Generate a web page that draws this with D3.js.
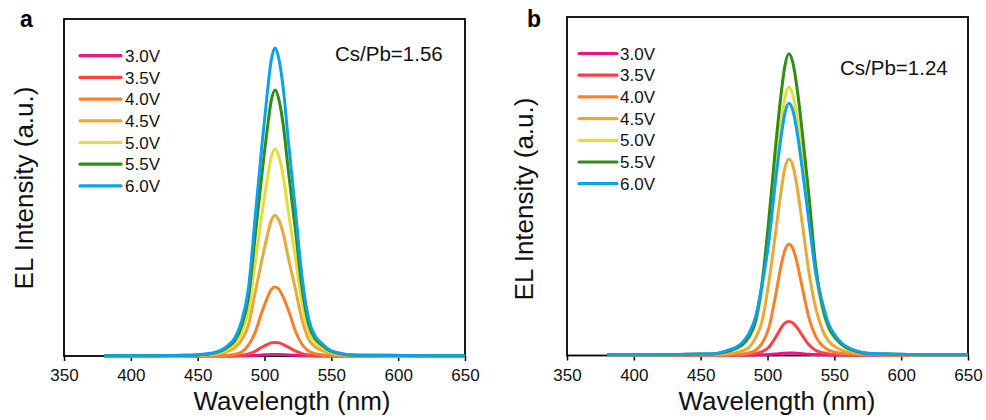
<!DOCTYPE html>
<html>
<head>
<meta charset="utf-8">
<script src="https://cdn.jsdelivr.net/npm/d3@7"></script>
<style>
  body { margin: 0; background: #fff; }
  svg { display: block; font-family: "Liberation Sans", Arial, sans-serif; }
</style>
</head>
<body>
<svg id="chart"></svg>
<script>
/// data ///
const voltages = ["3.0V", "3.5V", "4.0V", "4.5V", "5.0V", "5.5V", "6.0V"];
const xTicks = [350, 400, 450, 500, 550, 600, 650];
const ratioA = "Cs/Pb=1.56";
const ratioB = "Cs/Pb=1.24";

// panel a (nm, a.u.)
const waveA = [380,420,440,450,460,468,473,478,483,488,493,498,502,505,508,511,514,518,523,528,533,538,543,548,558,568,590,620,650];
const elA_3_0 = [0,0,0,0,0,0,0,0,0.5,1,2,3,4,4.4,4.5,4.4,4,3,2,1,0.5,0,0,0,0,0,0,0,0];
const elA_3_5 = [0,0,0,0,0,0,0,1,2,6,14,26,34,39,40,39,34,26,15,7,3,1,1,0,0,0,0,0,0];
const elA_4_0 = [0,0,0,0,0,1,2,5,12,32,70,130,172,197,205,197,175,135,75,35,15,7,4,2,1,0,0,0,0];
const elA_4_5 = [0,0,1,2,4,8,15,25,48,92,188,284,355,401,418,401,364,288,201,109,50,27,17,9,3,1,1,0,0];
const elA_5_0 = [1,1,1,2,6,12,21,37,71,135,276,418,522,589,614,589,534,424,295,160,74,40,25,14,5,2,1,1,1];
const elA_5_5 = [1,1,2,3,7,16,28,47,91,174,355,537,671,757,789,757,686,544,379,205,95,51,32,17,6,2,2,1,1];
const elA_6_0 = [1,1,2,4,8,18,32,55,105,201,411,622,777,877,914,877,795,631,439,238,110,59,37,20,7,3,2,1,1];

// panel b (nm, a.u.)
const waveB = [380,420,440,450,460,466,471,476,481,486,491,496,501,506,510,513,516,519,522,526,531,536,541,546,551,556,566,576,590,620,650];
const elB_3_0 = [0,0,0,0,0,0,0,0,0,0,0.3,0.8,1.5,3,4.5,5.5,6,5.6,5,3.8,2.2,1.2,0.6,0.3,0,0,0,0,0,0,0];
const elB_3_5 = [0,0,0,0,0,0,0,0,1,2,4,10,23,52,79,94,99,95,82,58,30,14,7,3,2,1,0,0,0,0,0];
const elB_4_0 = [0,0,0,0,0,0,1,2,3,6,14,35,80,175,262,310,328,315,275,200,110,55,28,14,8,5,2,1,0,0,0];
const elB_4_5 = [0,0,1,1,1,2,4,7,12,22,50,100,215,360,480,553,579,560,500,390,245,140,75,40,24,14,6,3,1,0,0];
const elB_5_0 = [1,1,2,2,4,7,12,18,29,51,92,195,357,547,682,761,793,769,706,587,420,240,135,75,47,28,10,4,2,1,1];
const elB_5_5 = [1,1,2,3,4,7,12,19,30,53,100,215,401,615,766,855,891,864,793,659,472,265,145,80,50,30,11,4,3,1,1];
const elB_6_0 = [1,1,2,3,4,9,15,22,36,63,112,209,335,514,641,715,745,723,663,551,395,246,156,89,56,34,13,5,3,1,1];

/// styles ///
const colors = ["#e8168b", "#fc4046", "#f5822a", "#e8a93a", "#e4dd38", "#2f8c14", "#0aa2ee"];
const font = "\"Liberation Sans\", Arial, sans-serif";

/// dimensions ///
const width = 986;
const height = 420;

const panels = [
  { label: "a", ratio: ratioA, wave: waveA, series: [elA_3_0, elA_3_5, elA_4_0, elA_4_5, elA_5_0, elA_5_5, elA_6_0],
    left: 64, top: 19, right: 465, bottom: 356, yBase: 356,
    labelX: 20, labelY: 27, ratioX: 335, ratioY: 61, legX: 80, legY: 55.7, legLen: 41, legGap: 4,
    xTitleX: 292, yTitleX: 33, yTitleY: 188 },
  { label: "b", ratio: ratioB, wave: waveB, series: [elB_3_0, elB_3_5, elB_4_0, elB_4_5, elB_5_0, elB_5_5, elB_6_0],
    left: 567, top: 17, right: 968, bottom: 355.5, yBase: 355,
    labelX: 527, labelY: 26.5, ratioX: 840, ratioY: 75, legX: 579, legY: 53.5, legLen: 38, legGap: 3,
    xTitleX: 777, yTitleX: 533, yTitleY: 199 }
];

const svg = d3.select("#chart")
  .attr("width", width)
  .attr("height", height);

panels.forEach(p => {
  const g = svg.append("g");

  // scales
  const x = d3.scaleLinear().domain([350, 650]).range([p.left, p.right]);
  const y = d3.scaleLinear().domain([0, 1000]).range([p.yBase, p.top]);

  // x axis ticks + labels
  g.append("g")
    .attr("transform", `translate(0,${p.bottom})`)
    .call(d3.axisBottom(x).tickValues(xTicks).tickSize(5).tickPadding(8).tickFormat(d3.format("d")))
    .call(a => a.select(".domain").remove())
    .call(a => a.selectAll(".tick line").attr("stroke", "#000").attr("stroke-width", 1.5))
    .call(a => a.selectAll(".tick text")
      .attr("font-family", font)
      .attr("font-size", 17)
      .attr("fill", "#111"));

  // frame
  g.append("rect")
    .attr("x", p.left)
    .attr("y", p.top)
    .attr("width", p.right - p.left)
    .attr("height", p.bottom - p.top)
    .attr("fill", "none")
    .attr("stroke", "#000")
    .attr("stroke-width", 1.8);

  // spectra
  const line = d3.line()
    .x((d, i) => x(p.wave[i]))
    .y(d => y(d))
    .curve(d3.curveMonotoneX);

  g.append("g")
    .selectAll("path")
    .data(p.series)
    .join("path")
      .attr("d", d => line(d))
      .attr("fill", "none")
      .attr("stroke", (d, i) => colors[i])
      .attr("stroke-width", 3)
      .attr("stroke-linejoin", "round");

  // legend
  const leg = g.append("g")
    .selectAll("g")
    .data(voltages)
    .join("g")
      .attr("transform", (d, i) => `translate(${p.legX},${p.legY + i * 21.7})`);
  leg.append("line")
    .attr("x1", 0).attr("x2", p.legLen)
    .attr("stroke", (d, i) => colors[i])
    .attr("stroke-width", 3.2)
    .attr("stroke-linecap", "round");
  leg.append("text")
    .attr("x", p.legLen + p.legGap)
    .attr("dy", "0.36em")
    .attr("font-family", font)
    .attr("font-size", 17)
    .attr("fill", "#111")
    .text(d => d);

  // ratio note
  g.append("text")
    .attr("x", p.ratioX)
    .attr("y", p.ratioY)
    .attr("font-family", font)
    .attr("font-size", 20.5)
    .attr("fill", "#111")
    .text(p.ratio);

  // panel label
  g.append("text")
    .attr("x", p.labelX)
    .attr("y", p.labelY)
    .attr("font-family", font)
    .attr("font-size", 23)
    .attr("font-weight", "bold")
    .text(p.label);

  // axis titles
  g.append("text")
    .attr("x", p.xTitleX)
    .attr("y", 410)
    .attr("text-anchor", "middle")
    .attr("font-family", font)
    .attr("font-size", 26)
    .attr("fill", "#111")
    .text("Wavelength (nm)");

  g.append("text")
    .attr("transform", `translate(${p.yTitleX},${p.yTitleY}) rotate(-90)`)
    .attr("text-anchor", "middle")
    .attr("font-family", font)
    .attr("font-size", 26)
    .attr("fill", "#111")
    .text("EL Intensity (a.u.)");
});
</script>
</body>
</html>
